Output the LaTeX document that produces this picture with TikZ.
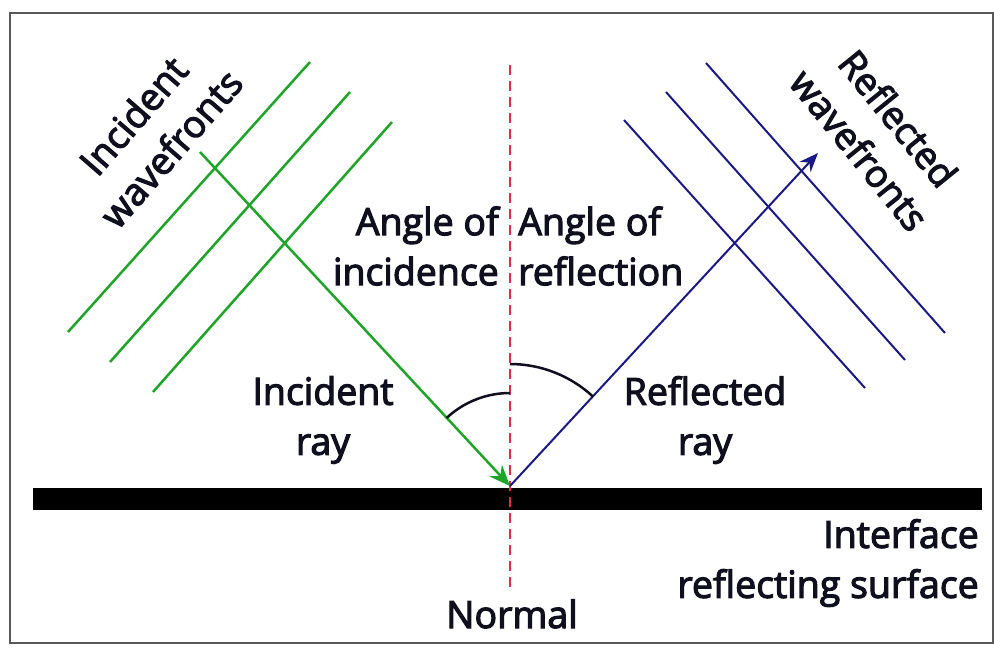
\documentclass[tikz,border=0pt]{standalone}
\usepackage{fontspec}
\setmainfont{Open Sans}[FakeBold=3]
\usetikzlibrary{arrows.meta}
\definecolor{verde}{RGB}{30,165,40}
\definecolor{azul}{RGB}{25,25,135}
\definecolor{rojo}{RGB}{225,45,65}
\definecolor{tinta}{RGB}{15,15,30}

\begin{document}
\begin{tikzpicture}[x=1pt, y=-1pt, >={Stealth[length=21pt, width=17pt]}, line width=2.5pt,
    etiqueta/.style={inner sep=0pt, text=tinta, font=\fontsize{37.5}{50}\selectfont}]
  \useasboundingbox (0,0) rectangle (994,649);
  \coordinate (P) at (510,486);
  \coordinate (I) at (200,152);
  \coordinate (R) at (818,153);
  % marco
  \draw[line width=1.5pt, black!65] (10,13) rectangle (993,643);
  % superficie reflectora
  \fill[black] (33,488) rectangle (982,510);
  % normal
  \coordinate (N1) at (510,65);
  \coordinate (N2) at (510,588);
  \draw[rojo, line width=2.8pt, dash pattern=on 10pt off 6pt] (N1)--(N2);
  % frentes de onda incidentes
  \foreach \a/\b/\c/\d [count=\i] in {68/332/310/62, 110/362/350/92, 153/392/392/122}{
    \coordinate (g\i) at (\a,\b);
    \coordinate (G\i) at (\c,\d);
    \draw[verde] (g\i)--(G\i);
  }
  % frentes de onda reflejados
  \foreach \a/\b/\c/\d [count=\i] in {624/120/865/388, 666/92/905/360, 706/63/945/333}{
    \coordinate (b\i) at (\a,\b);
    \coordinate (B\i) at (\c,\d);
    \draw[azul, line width=2pt] (b\i)--(B\i);
  }
  % rayos
  \draw[->, verde] (I)--(P);
  \draw[->, azul, line width=2pt, >={Stealth[length=19pt, width=15pt]}] (P)--(R);
  % angulos
  \draw[tinta] (P) ++(270:93) arc[start angle=270, end angle=227, radius=93];
  \draw[tinta] (P) ++(270:122) arc[start angle=270, end angle=313, radius=122];
  % textos
  \node[etiqueta, align=center, rotate=49] (incw) at (152,132) {Incident\\wavefronts};
  \node[etiqueta, align=center, rotate=-51] (refw) at (879,134) {Reflected\\wavefronts};
  \node[etiqueta, align=right, anchor=east] (angi) at (500,246) {Angle of\\incidence};
  \node[etiqueta, align=left, anchor=west] (angr) at (517,246) {Angle of\\reflection};
  \node[etiqueta, align=center] (incr) at (323,420) {Incident\\ray};
  \node[etiqueta, align=center] (refr) at (705,420) {Reflected\\ray};
  \node[etiqueta, align=right, anchor=east] (surf) at (980,563) {Interface\\reflecting surface};
  \node[etiqueta, anchor=base] (norm) at (512,628) {Normal};
\end{tikzpicture}
\end{document}
